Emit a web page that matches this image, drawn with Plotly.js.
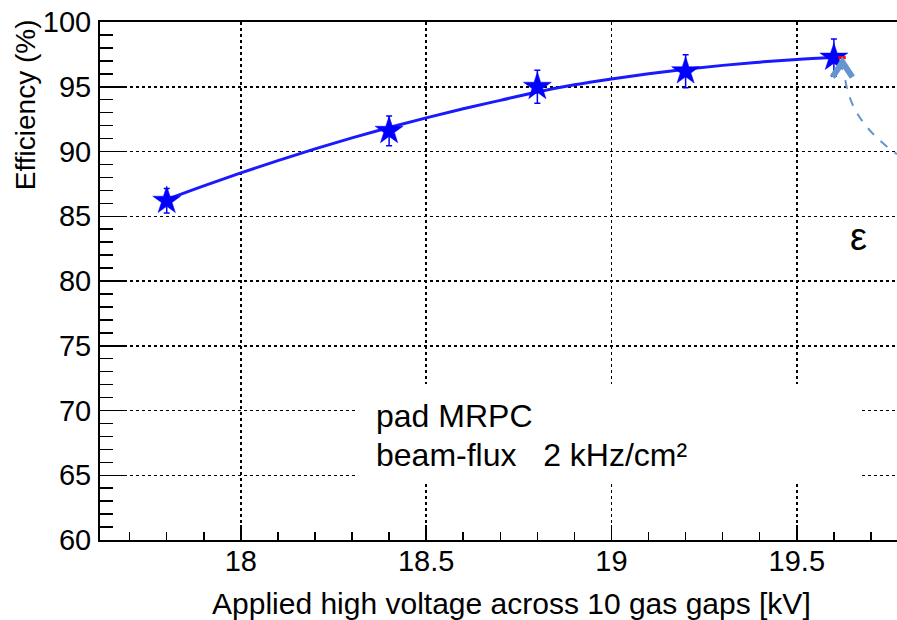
<!DOCTYPE html>
<html>
<head>
<meta charset="utf-8">
<script src="https://cdn.plot.ly/plotly-3.0.1.min.js"></script>
<style>
html,body{margin:0;padding:0;overflow:hidden;background:#fff;}
#chart{width:920px;height:620px;}
</style>
</head>
<body>
<div id="chart"></div>
<script>
// Measured points
const voltage = [17.8, 18.4, 18.8, 19.2, 19.6];
const efficiency = [86.2, 91.6, 95.0, 96.2, 97.25];
const effError = [0.95, 1.15, 1.27, 1.27, 1.43];

// Fit curve
const fitVoltage = [17.8, 17.9, 18.0, 18.1, 18.2, 18.3, 18.4, 18.5, 18.6, 18.7, 18.8, 18.9, 19.0, 19.1, 19.2, 19.3, 19.4, 19.5, 19.6];
const fitEfficiency = [86.3, 87.35, 88.35, 89.3, 90.2, 91.05, 91.85, 92.6, 93.3, 93.95, 94.6, 95.15, 95.6, 96.0, 96.35, 96.65, 96.9, 97.1, 97.25];

const xTickVals = [18, 18.5, 19, 19.5];
const xTickText = ["18", "18.5", "19", "19.5"];
const yTickVals = [60, 65, 70, 75, 80, 85, 90, 95, 100];
const yTickText = ["60", "65", "70", "75", "80", "85", "90", "95", "100"];

const textLines = ["pad MRPC", "beam-flux   2 kHz/cm²"];
const xTitle = "Applied high voltage across 10 gas gaps [kV]";
const yTitle = "Efficiency (%)";

const FONT = "Liberation Sans, Arial, sans-serif";
const lastX = voltage[voltage.length - 1];
const lastY = efficiency[efficiency.length - 1];

const traces = [
  {
    x: fitVoltage, y: fitEfficiency, type: "scatter", mode: "lines",
    line: {color: "#1a1aff", width: 3, shape: "spline"},
    hoverinfo: "skip", showlegend: false
  },
  {
    x: voltage, y: efficiency, type: "scatter", mode: "markers",
    marker: {symbol: "star", size: 21, color: "#0000ff", line: {width: 0.5, color: "#0000ff"}},
    error_y: {type: "data", array: effError, visible: true, color: "#0000ff", thickness: 1.5, width: 3},
    showlegend: false
  }
];

const layout = {
  width: 920, height: 620,
  margin: {l: 100, r: 12, t: 22, b: 80},
  paper_bgcolor: "#ffffff", plot_bgcolor: "#ffffff",
  font: {family: FONT, color: "#000", size: 29},
  showlegend: false,
  xaxis: {
    range: [17.62, 19.8],
    tickmode: "array", tickvals: xTickVals, ticktext: xTickText,
    ticks: "inside", ticklen: 15, tickwidth: 1.5, tickcolor: "#000",
    minor: {ticks: "inside", ticklen: 8, tickwidth: 1.5, tickcolor: "#000", dtick: 0.1, tick0: 18, showgrid: false},
    showline: true, linecolor: "#000", linewidth: 2, mirror: true,
    showgrid: true, gridcolor: "#000", gridwidth: 1.5, griddash: "dot",
    zeroline: false,
    tickfont: {size: 29, family: FONT},
    ticklabelstandoff: -6
  },
  yaxis: {
    range: [60, 100],
    tickmode: "array", tickvals: yTickVals, ticktext: yTickText,
    ticks: "inside", ticklen: 25, tickwidth: 1.5, tickcolor: "#000",
    minor: {ticks: "inside", ticklen: 13, tickwidth: 1.5, tickcolor: "#000", dtick: 1, tick0: 60, showgrid: false},
    showline: true, linecolor: "#000", linewidth: 2, mirror: true,
    showgrid: true, gridcolor: "#000", gridwidth: 1.5, griddash: "dot",
    zeroline: false,
    tickfont: {size: 29, family: FONT},
    ticklabelstandoff: 1
  },
  shapes: [
    // white label box hiding grid
    {type: "rect", xref: "x", yref: "y", x0: 18.315, x1: 19.668, y0: 64.4, y1: 72.05,
     fillcolor: "#ffffff", line: {width: 0}, layer: "above"},
    // red dash at the last point
    {type: "line", xref: "x", yref: "y", x0: lastX + 0.012, x1: lastX + 0.032, y0: lastY, y1: lastY,
     line: {color: "#ff0000", width: 3}, layer: "above"},
    // chevron
    {type: "path", xref: "x", yref: "y",
     path: "M 19.596 95.75 L 19.623 96.91 L 19.650 95.75",
     line: {color: "#6496cd", width: 6}, layer: "above"},
    // dashed curve
    {type: "path", xref: "x", yref: "y",
     path: "M 19.631 95.52 Q 19.647 92.28 19.77 89.8",
     line: {color: "#6496cd", width: 2, dash: "dash"}, layer: "above"}
  ],
  annotations: [
    {xref: "x", yref: "y", x: 18.36, y: 69.55, xanchor: "left", yanchor: "middle",
     text: textLines[0], showarrow: false, font: {size: 32, family: FONT, color: "#000"}},
    {xref: "x", yref: "y", x: 18.36, y: 66.6, xanchor: "left", yanchor: "middle",
     text: textLines[1], showarrow: false, font: {size: 32, family: FONT, color: "#000"}},
    {xref: "x", yref: "y", x: 19.666, y: 83.4, xanchor: "center", yanchor: "middle",
     text: "ε", showarrow: false, font: {size: 38, family: FONT, color: "#000"}},
    {xref: "paper", yref: "paper", x: 0.5087, y: -0.1235, xanchor: "center", yanchor: "middle",
     text: xTitle, showarrow: false, font: {size: 30, family: FONT, color: "#000"}},
    {xref: "paper", yref: "paper", x: -0.093, y: 1.01, xanchor: "center", yanchor: "top",
     text: yTitle, textangle: -90, showarrow: false, font: {size: 28, family: FONT, color: "#000"}}
  ]
};

Plotly.newPlot("chart", traces, layout, {displayModeBar: false, staticPlot: true});
</script>
</body>
</html>
